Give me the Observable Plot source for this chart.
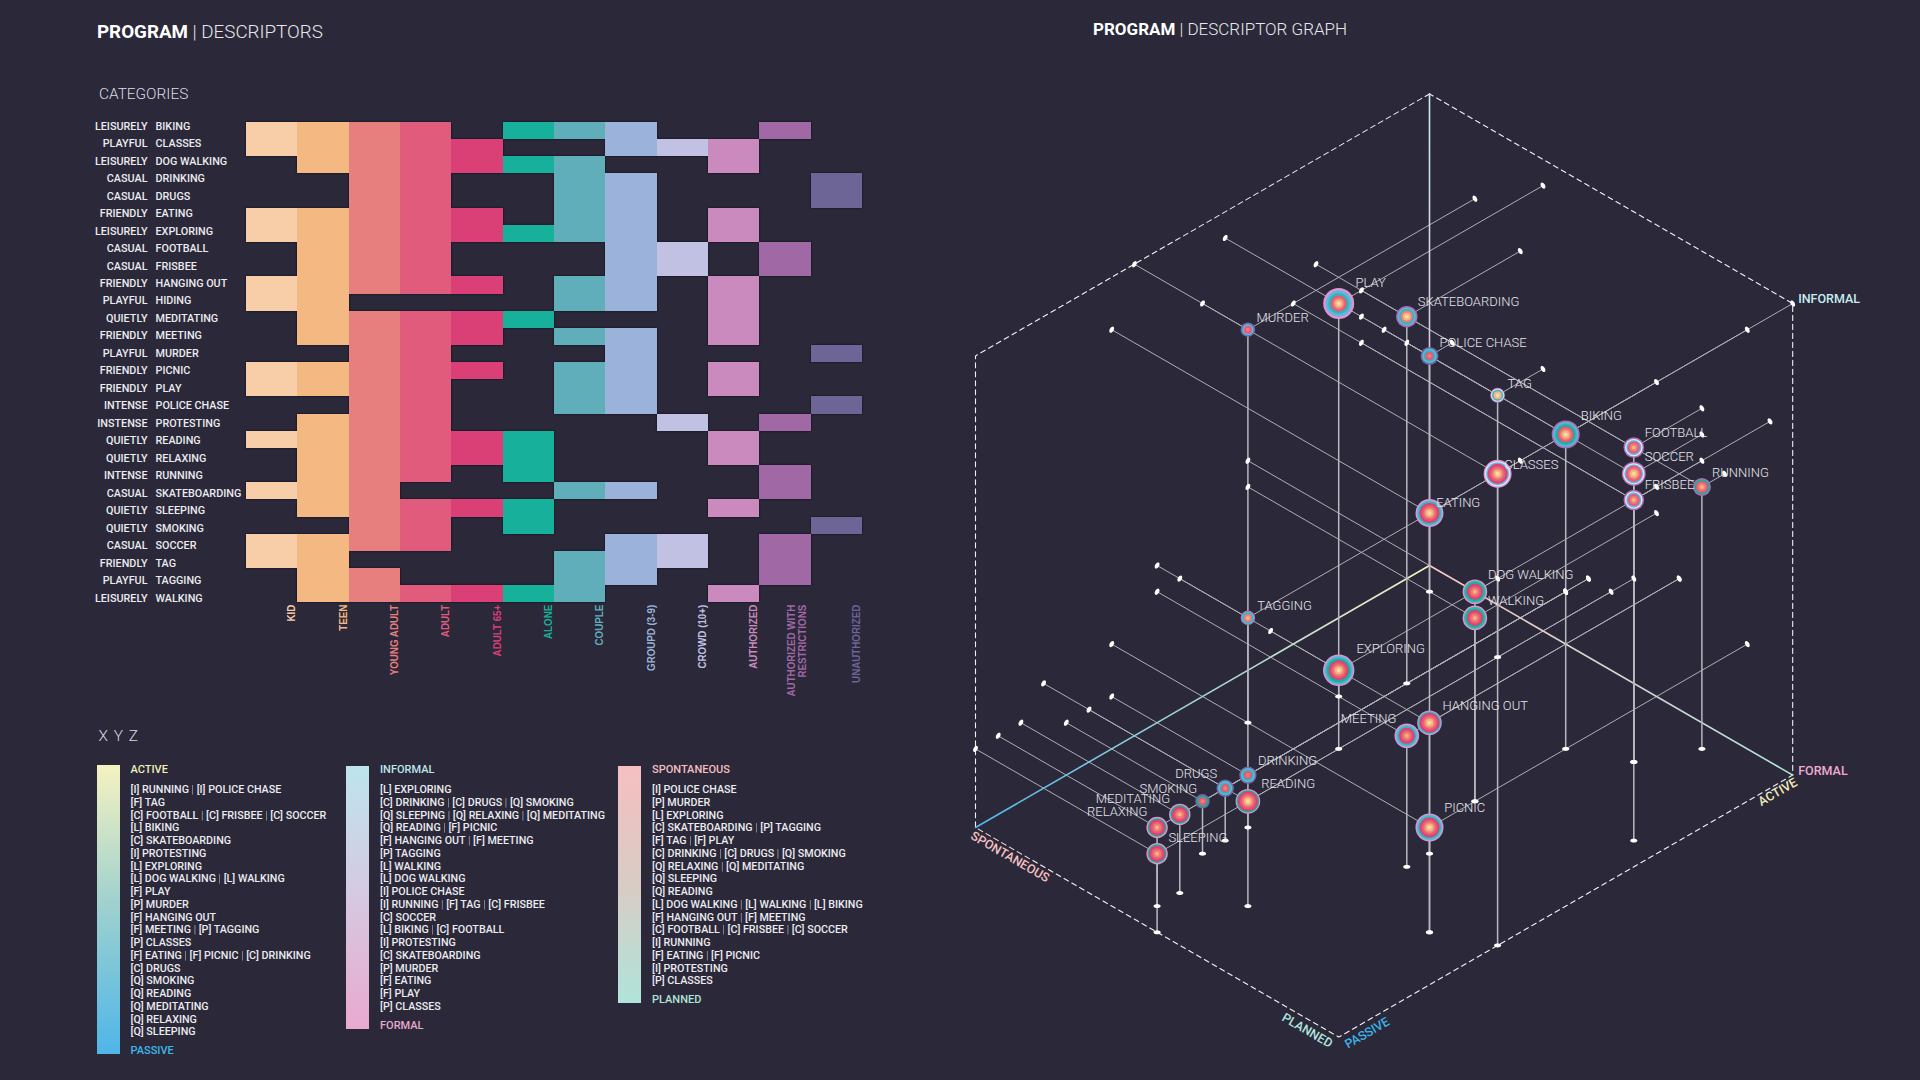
<!DOCTYPE html>
<html>
<head>
<meta charset="utf-8">
<script src="https://cdn.jsdelivr.net/npm/d3@7"></script>
<script src="https://cdn.jsdelivr.net/npm/@observablehq/plot@0.6"></script>
<style>
  html,body{margin:0;padding:0;background:#2a2839;}
  #page{position:relative;width:1920px;height:1080px;overflow:hidden;background:#2a2839;font-family:Roboto,sans-serif;color:#eee;}
  #page>*{position:absolute;}
  .title{font-weight:300;color:#e8e8ec;white-space:pre;line-height:22px;}
  .title b{font-weight:700;color:#fff;}
  .sub{font-size:15.4px;font-weight:300;color:#dcdce2;white-space:pre;line-height:18px;}
  .bar{width:23px;box-sizing:border-box;}
  .list{font-size:10.72px;font-weight:500;line-height:12.75px;white-space:pre;color:#ececf0;}
  .list i{font-style:normal;font-weight:300;opacity:.75;}
  .end{font-size:11px;font-weight:500;line-height:12px;white-space:pre;}
</style>
</head>
<body>
<div id="page"></div>
<script>
// ---------- data ----------
const activities = ["BIKING","CLASSES","DOG WALKING","DRINKING","DRUGS","EATING","EXPLORING","FOOTBALL","FRISBEE","HANGING OUT","HIDING","MEDITATING","MEETING","MURDER","PICNIC","PLAY","POLICE CHASE","PROTESTING","READING","RELAXING","RUNNING","SKATEBOARDING","SLEEPING","SMOKING","SOCCER","TAG","TAGGING","WALKING"];
const descriptors = ["LEISURELY","PLAYFUL","LEISURELY","CASUAL","CASUAL","FRIENDLY","LEISURELY","CASUAL","CASUAL","FRIENDLY","PLAYFUL","QUIETLY","FRIENDLY","PLAYFUL","FRIENDLY","FRIENDLY","INTENSE","INSTENSE","QUIETLY","QUIETLY","INTENSE","CASUAL","QUIETLY","QUIETLY","CASUAL","FRIENDLY","PLAYFUL","LEISURELY"];
const categories = ["KID","TEEN","YOUNG ADULT","ADULT","ADULT 65+","ALONE","COUPLE","GROUPD (3-9)","CROWD (10+)","AUTHORIZED","AUTHORIZED WITH\nRESTRICTIONS","UNAUTHORIZED"];
const categoryColors = ["#f8cea9","#f4b982","#e87f7f","#e05b7c","#da3f75","#17b09a","#61aebb","#9bb3da","#c0c1e3","#ca8abd","#a068a5","#6d6596"];
const ringColors = ["#fbd9b0","#f5b57c","#ee7d78","#e65a78","#e0406f","#0fb39a","#35b4b4","#5cb6e6","#e4e3f4","#dd96cb","#ae6db0","#6f6aa0"];
const membership = ["111101110010","111110011100","011111100100","001100110001","001100110001","111110110100","111111110100","011100011010","011100011010","111110110100","110000110100","011111000100","011110110100","001100010001","111110110100","111100110100","001100110001","011100001010","111111000100","011111000100","011101000010","111000110010","011111000100","001101000001","111100011010","110000111010","011000110010","011111100100"];
const activeToPassive = [["RUNNING","POLICE CHASE"],["TAG"],["FOOTBALL","FRISBEE","SOCCER"],["BIKING"],["SKATEBOARDING"],["PROTESTING"],["EXPLORING"],["DOG WALKING","WALKING"],["PLAY"],["MURDER"],["HANGING OUT"],["MEETING","TAGGING"],["CLASSES"],["EATING","PICNIC","DRINKING"],["DRUGS"],["SMOKING"],["READING"],["MEDITATING"],["RELAXING"],["SLEEPING"]];
const informalToFormal = [["EXPLORING"],["DRINKING","DRUGS","SMOKING"],["SLEEPING","RELAXING","MEDITATING"],["READING","PICNIC"],["HANGING OUT","MEETING"],["TAGGING"],["WALKING"],["DOG WALKING"],["POLICE CHASE"],["RUNNING","TAG","FRISBEE"],["SOCCER"],["BIKING","FOOTBALL"],["PROTESTING"],["SKATEBOARDING"],["MURDER"],["EATING"],["PLAY"],["CLASSES"]];
const spontaneousToPlanned = [["POLICE CHASE"],["MURDER"],["EXPLORING"],["SKATEBOARDING","TAGGING"],["TAG","PLAY"],["DRINKING","DRUGS","SMOKING"],["RELAXING","MEDITATING"],["SLEEPING"],["READING"],["DOG WALKING","WALKING","BIKING"],["HANGING OUT","MEETING"],["FOOTBALL","FRISBEE","SOCCER"],["RUNNING"],["EATING","PICNIC"],["PROTESTING"],["CLASSES"]];
// order of the nodes as listed, with the read weight of each ring stack
const nodeNames = ["PROTESTING","FRISBEE","SOCCER","FOOTBALL","RUNNING","BIKING","TAG","CLASSES","EATING","POLICE CHASE","SKATEBOARDING","PLAY","MURDER","DOG WALKING","WALKING","EXPLORING","TAGGING","HANGING OUT","MEETING","PICNIC","DRINKING","READING","DRUGS","SMOKING","MEDITATING","RELAXING","SLEEPING"];
const nodeWeights = [9,10.3,12,10.3,9,14,7.5,14,14,9,10.7,15.5,7.3,12.3,12.3,15.7,7.3,12.3,12.3,14,8.7,12.3,8.7,7.2,10.7,10.7,10.7];

// ---------- derived ----------
const rankOf = (lists) => new Map(lists.flatMap((names, i) => names.map((n) => [n, i + 1])));
const passive = rankOf(activeToPassive), formal = rankOf(informalToFormal), planned = rankOf(spontaneousToPlanned);
const X = (a, p) => p - a;
const Y = (a, p, h) => (a + p) / 2 - h;
const cells = activities.flatMap((name, r) => [...membership[r]].flatMap((f, c) => f === "1" ? [{name, col: categories[c]}] : []));
const nodes = nodeNames.map((name, i) => {
  const a = passive.get(name), p = planned.get(name), h = formal.get(name);
  return {name, a, p, h, x: X(a, p), y: Y(a, p, h), weight: nodeWeights[i], cats: categories.filter((_, c) => membership[activities.indexOf(name)][c] === "1")};
});
// every age ring is two pixels wide; the other rings share what is left of the node's radius
const ageRing = 2;
const isAge = (col) => categories.indexOf(col) < 5;
const rings = nodes.flatMap((n) => {
  const ages = n.cats.filter(isAge).length, others = n.cats.length - ages;
  const other = (n.weight - ages * ageRing) / others;
  let run = 0;
  return n.cats.map((col) => { run += isAge(col) ? ageRing : other; return {col, x: n.x, y: n.y, r: run}; }).reverse();
});
const A = 20, P = 16, H = 18;
const hull = [[0,0,H],[A,0,H],[A,0,0],[A,P,0],[0,P,0],[0,P,H],[0,0,H]].map(([a,p,h]) => ({x: X(a,p), y: Y(a,p,h)}));
const axes = [
  {id:"gFormal", from:[0,0,H], to:[0,0,0], c0:"#c5ecf2", c1:"#eda9d2"},
  {id:"gActive", from:[0,0,0], to:[A,0,0], c0:"#f5f2c0", c1:"#4fb6e8"},
  {id:"gPlanned", from:[0,0,0], to:[0,P,0], c0:"#f6c6c4", c1:"#b0e4da"}
].map((d) => ({...d, x1:X(d.from[0],d.from[1]), y1:Y(...d.from), x2:X(d.to[0],d.to[1]), y2:Y(...d.to)}));

// ---------- helpers ----------
const ellipse = (rx, ry, deg) => ({draw(ctx) {
  const t = deg * Math.PI / 180, n = 20;
  for (let i = 0; i < n; i++) {
    const u = i / n * 2 * Math.PI, ex = rx * Math.cos(u), ey = ry * Math.sin(u);
    const px = ex * Math.cos(t) - ey * Math.sin(t), py = ex * Math.sin(t) + ey * Math.cos(t);
    i ? ctx.lineTo(px, py) : ctx.moveTo(px, py);
  }
  ctx.closePath();
}});
const font = "Roboto";
const page = document.getElementById("page");
function put(html, cls, css) {
  const d = document.createElement("div");
  d.className = cls; d.innerHTML = html; d.style.cssText = css; page.appendChild(d); return d;
}

// ---------- headings ----------
put("<b>PROGRAM</b> | DESCRIPTORS","title","left:97px;top:21px;font-size:18.8px;");
put("<b>PROGRAM</b> | DESCRIPTOR GRAPH","title","left:1093px;top:18px;font-size:17px;");
put("CATEGORIES","sub","left:99px;top:85px;");
put("X Y Z","sub","left:98.5px;top:727px;letter-spacing:1px;");

// ---------- heatmap ----------
const columnLabel = {rotate: -90, frameAnchor: "bottom", textAnchor: "end", fontSize: 11.5, fontWeight: 700, fontFamily: "Liberation Sans", className: "collabel"};
const heat = Plot.plot({
  width: 900, height: 720,
  marginLeft: 246, marginRight: 38, marginTop: 122, marginBottom: 117.7,
  style: {background: "transparent", fontFamily: font},
  x: {domain: categories, axis: null, padding: 0, round: false},
  y: {domain: activities, axis: null, padding: 0, round: false},
  color: {domain: categories, range: categoryColors},
  marks: [
    Plot.cell(cells, {x: "col", y: "name", fill: "col", shapeRendering: "crispEdges", imageFilter: "drop-shadow(0 0 1.2px rgba(10,8,25,.9))"}),
    Plot.text(categories.filter((d) => !d.includes("\n")), {x: (d) => d, dy: 2, dx: 23, fill: (d) => d, ...columnLabel}),
    Plot.text(categories.filter((d) => d.includes("\n")), {x: (d) => d, dy: 2, dx: 20.5, lineHeight: 1.0, fill: (d) => d, ...columnLabel})
  ]
});
// the column labels are narrow: squeeze the glyphs along their reading direction
heat.querySelectorAll(".collabel text").forEach((t) => t.setAttribute("transform", (t.getAttribute("transform") || "") + " scale(.85,1)"));
heat.style.left = "0px"; heat.style.top = "0px"; page.appendChild(heat);

// row labels keep their own, slightly wider rhythm than the cells
const rowLabels = Plot.plot({
  width: 246, height: 720,
  marginLeft: 0, marginRight: 0, marginTop: 125.7, marginBottom: 122.3,
  style: {background: "transparent", fontFamily: font},
  x: {axis: null, domain: [0, 1]},
  y: {domain: activities, axis: null, padding: 0, round: false},
  marks: [
    Plot.text(activities, {y: (d) => d, text: (d, i) => descriptors[i], frameAnchor: "left", dx: 147, textAnchor: "end", fill: "#ececf0", fontSize: 10.8, fontWeight: 500}),
    Plot.text(activities, {y: (d) => d, frameAnchor: "left", dx: 155, textAnchor: "start", fill: "#ececf0", fontSize: 10.8, fontWeight: 500})
  ]
});
rowLabels.style.left = "0px"; rowLabels.style.top = "0px"; page.appendChild(rowLabels);

// ---------- ranked lists ----------
const tag = (n) => `[${descriptors[activities.indexOf(n)][0]}] ${n}`;
const listHtml = (lists) => lists.map((names) => names.map(tag).join(" <i>|</i> ")).join("\n");
const legends = [
  {left:97, top:765, h:289, grad:"#f5f2c0,#9fd1cf 48%,#4fb6e8", head:"ACTIVE", tail:"PASSIVE", hc:"#f1eebb", tc:"#3fb6ea", tx:130.5, tailTop:1045, lists:activeToPassive},
  {left:346, top:766, h:263, grad:"#bde5ee,#d6c8e0 50%,#e8a9d0", head:"INFORMAL", tail:"FORMAL", hc:"#bde5ee", tc:"#e8a9d0", tx:380, tailTop:1020, lists:informalToFormal},
  {left:618, top:766, h:237, grad:"#f5bfc0,#d8ccc4 50%,#b0e4da", head:"SPONTANEOUS", tail:"PLANNED", hc:"#f5bfc0", tc:"#b0e4da", tx:652, tailTop:994, lists:spontaneousToPlanned}
];
for (const l of legends) {
  put("", "bar", `left:${l.left}px;top:${l.top}px;height:${l.h}px;background:linear-gradient(${l.grad});`);
  put(l.head, "end", `left:${l.tx}px;top:764px;color:${l.hc};`);
  put(listHtml(l.lists), "list", `left:${l.tx}px;top:784px;`);
  put(l.tail, "end", `left:${l.tx}px;top:${l.tailTop}px;color:${l.tc};`);
}

// ---------- isometric graph ----------
const U = 22.7, V = 26.2;     // grid unit on screen
const ox = 529, oy = 565;     // origin on screen, SVG placed at left:900
const wire = {stroke: "#aeaeb6", strokeWidth: 1};
const axisLabels = [
  {text:"INFORMAL", a:0, p:P, h:H, dx:5.5, dy:-5, rotate:0, anchor:"start", fill:"#c5ecf2"},
  {text:"FORMAL", a:0, p:P, h:0, dx:5.5, dy:-4, rotate:0, anchor:"start", fill:"#efa9d2"},
  {text:"SPONTANEOUS", a:A, p:0, h:0, dx:34.5, dy:29.5, rotate:30, anchor:"middle", fill:"#f5c0c0"},
  {text:"PLANNED", a:A, p:P, h:0, dx:-31.5, dy:-6.5, rotate:30, anchor:"middle", fill:"#b0e4dc"},
  {text:"PASSIVE", a:A, p:P, h:0, dx:28.5, dy:-4, rotate:-30, anchor:"middle", fill:"#3cb4e8"},
  {text:"ACTIVE", a:0, p:P, h:0, dx:-15, dy:17, rotate:-30, anchor:"middle", fill:"#f1eebb"}
];
// label offsets from each node, in pixels
const labelOffsets = {"PLAY":[16.7,-21],"MURDER":[8.6,-12],"SKATEBOARDING":[11,-15],"POLICE CHASE":[10,-13],"TAG":[10,-11.4],"BIKING":[15,-19],"FOOTBALL":[11,-15],"SOCCER":[11,-17],"FRISBEE":[11,-15],"RUNNING":[10,-14],"CLASSES":[6.7,-9.3],"EATING":[6.7,-10.3],"DOG WALKING":[13,-17],"WALKING":[13,-17],"EXPLORING":[17.7,-21],"HANGING OUT":[13,-17],"MEETING":[-66,-17],"PICNIC":[14.7,-19.3],"TAGGING":[9.3,-12],"DRINKING":[10,-14.6],"READING":[13.3,-17.6],"DRUGS":[-50,-14.4],"SMOKING":[-63,-12.6],"MEDITATING":[-84,-15.4],"RELAXING":[-70,-15.6],"SLEEPING":[11.3,-15.6]};

const graph = Plot.plot({
  width: 1020, height: 1080, margin: 0,
  style: {background: "transparent", fontFamily: font},
  x: {domain: [-A, P], range: [ox - A * U, ox + P * U], axis: null},
  y: {domain: [-H, H], range: [oy - H * V, oy + H * V], axis: null},
  r: {type: "linear", domain: [0, 20], range: [0, 20]},
  color: {domain: categories, range: ringColors},
  marks: [
    // gradient definitions positioned through the scales
    (index, {x, y}) => {
      const ns = "http://www.w3.org/2000/svg", defs = document.createElementNS(ns, "defs");
      for (const d of axes) {
        const g = document.createElementNS(ns, "linearGradient");
        g.setAttribute("id", d.id); g.setAttribute("gradientUnits", "userSpaceOnUse");
        g.setAttribute("x1", x(d.x1)); g.setAttribute("y1", y(d.y1)); g.setAttribute("x2", x(d.x2)); g.setAttribute("y2", y(d.y2));
        [[0, d.c0], [1, d.c1]].forEach(([o, c]) => {
          const s = document.createElementNS(ns, "stop");
          s.setAttribute("offset", o); s.setAttribute("stop-color", c); g.appendChild(s);
        });
        defs.appendChild(g);
      }
      return defs;
    },
    Plot.line(hull, {x: "x", y: "y", stroke: "#f0f0f4", strokeWidth: 1.1, strokeDasharray: "5 4"}),
    // wires to the two back walls and the floor
    Plot.link(nodes, {x1: (d) => X(d.a, 0), y1: (d) => Y(d.a, 0, d.h), x2: "x", y2: "y", ...wire}),
    Plot.link(nodes, {x1: (d) => X(0, d.p), y1: (d) => Y(0, d.p, d.h), x2: "x", y2: "y", ...wire}),
    ...axes.map((d) => Plot.line([[d.x1, d.y1], [d.x2, d.y2]], {stroke: `url(#${d.id})`, strokeWidth: 1.6})),
    Plot.link(nodes, {x1: "x", y1: "y", x2: (d) => X(d.a, d.p), y2: (d) => Y(d.a, d.p, 0), stroke: "#b8b8c0", strokeWidth: 1.5}),
    Plot.dot(nodes, {x: (d) => X(d.a, 0), y: (d) => Y(d.a, 0, d.h), r: 3, symbol: ellipse(3.4, 2, -60), fill: "#fff"}),
    Plot.dot(nodes, {x: (d) => X(0, d.p), y: (d) => Y(0, d.p, d.h), r: 3, symbol: ellipse(3.4, 2, 60), fill: "#fff"}),
    Plot.dot(nodes, {x: (d) => X(d.a, d.p), y: (d) => Y(d.a, d.p, 0), r: 3, symbol: ellipse(3.6, 2, 0), fill: "#fff"}),
    Plot.dot(rings, {x: "x", y: "y", r: "r", fill: "col", sort: null, imageFilter: "blur(0.4px)"}),
    ...nodes.filter((n) => labelOffsets[n.name]).map((n) => Plot.text([n], {x: "x", y: "y", text: "name", dx: labelOffsets[n.name][0], dy: labelOffsets[n.name][1], textAnchor: "start", fill: "#e6e6ea", fontSize: 13, fontWeight: 300})),
    ...axisLabels.map((l) => Plot.text([l], {x: (d) => X(d.a, d.p), y: (d) => Y(d.a, d.p, d.h), text: "text", dx: l.dx, dy: l.dy, rotate: l.rotate, textAnchor: l.anchor, fill: l.fill, fontSize: 12.5, fontWeight: 500}))
  ]
});
graph.style.left = "900px"; graph.style.top = "0px"; page.appendChild(graph);
</script>
</body>
</html>
